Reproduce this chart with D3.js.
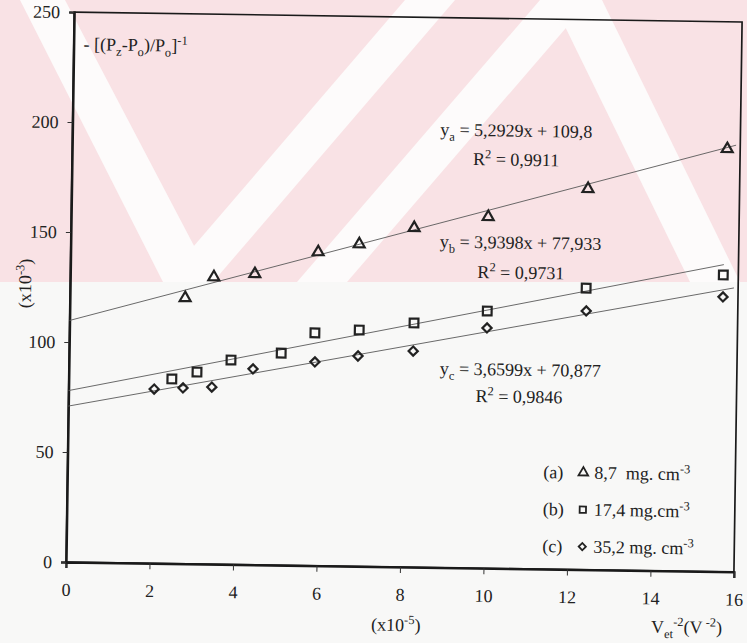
<!DOCTYPE html>
<html>
<head>
<meta charset="utf-8">
<script src="https://cdn.jsdelivr.net/npm/d3@7"></script>
<style>
  body { margin: 0; background: #f8f8f7; }
  text { font-family: "Liberation Serif", "Times New Roman", serif; fill: #222; }
</style>
</head>
<body>
<svg id="chart" width="747" height="643"></svg>
<script>
// tick labels
var xTicks = [0, 2, 4, 6, 8, 10, 12, 14, 16];
var yTicks = [0, 50, 100, 150, 200, 250];

// (a) 8,7 mg.cm-3
var xA = [2.76, 3.44, 4.42, 5.93, 6.91, 8.22, 9.99, 12.37, 15.69];
var yA = [120.8, 130.5, 132.2, 142.6, 146.5, 154.2, 159.7, 173.1, 192.2];
// (b) 17,4 mg.cm-3
var xB = [2.47, 3.07, 3.88, 5.08, 5.88, 6.94, 8.25, 10.0, 12.36, 15.64];
var yB = [83.9, 87.2, 92.9, 96.4, 105.8, 107.4, 111.0, 116.9, 128.0, 134.9];
// (c) 35,2 mg.cm-3
var xC = [2.05, 2.74, 3.43, 4.41, 5.89, 6.92, 8.24, 10.0, 12.37, 15.64];
var yC = [79.2, 79.9, 80.5, 89.0, 92.6, 95.6, 98.2, 109.2, 117.6, 124.9];

// linear fits
var seriesKeys = ["a", "b", "c"];
var slopes = [5.2929, 3.9398, 3.6599];
var intercepts = [109.8, 77.933, 70.877];
var rSquared = [0.9911, 0.9731, 0.9846];
var fitEnds = [15.9, 15.65, 15.9];
var legendLabels = ["8,7\u00a0\u00a0mg. cm", "17,4 mg.cm", "35,2 mg. cm"];

var dimensions = {
    width: 747,
    height: 643,
    margin: { top: 12, left: 66, right: 13, bottom: 81 }
};

var svg = d3.select("#chart");

// scanned watermark band
var wm = svg.append("g");
wm.append("rect").attr("x", 0).attr("y", 0).attr("width", 747).attr("height", 282).attr("fill", "#f9e2e5");
var stripes = [
    [[20, 0], [65, 0], [213, 282], [163, 282]],
    [[405, 0], [455, 0], [213, 282], [163, 282]],
    [[540, 0], [590, 0], [347, 282], [297, 282]],
    [[552, 0], [602, 0], [740, 282], [690, 282]]
];
wm.selectAll("polygon").data(stripes).enter().append("polygon")
    .attr("points", d => d.map(p => p.join(",")).join(" "))
    .attr("fill", "#fdfbfb");

// the scan is slightly rotated
var g = svg.append("g").attr("transform", "rotate(0.85," + dimensions.margin.left + "," + (dimensions.height - dimensions.margin.bottom) + ")");

var xScale = d3.scaleLinear()
    .domain([0, 16])
    .range([dimensions.margin.left, dimensions.width - dimensions.margin.right]);

var yScale = d3.scaleLinear()
    .domain([0, 250])
    .range([dimensions.height - dimensions.margin.bottom, dimensions.margin.top]);

// frame
g.append("rect")
    .attr("x", xScale(0)).attr("y", yScale(250))
    .attr("width", xScale(16) - xScale(0)).attr("height", yScale(0) - yScale(250))
    .attr("fill", "none").attr("stroke", "#1a1a1a").attr("stroke-width", 1.7);

var xAxis = g.append("g")
    .attr("transform", "translate(0," + yScale(0) + ")")
    .call(d3.axisBottom(xScale).tickValues(xTicks).tickSize(6).tickPadding(15));
var yAxis = g.append("g")
    .attr("transform", "translate(" + xScale(0) + ",0)")
    .call(d3.axisLeft(yScale).tickValues(yTicks).tickSize(5).tickPadding(9));

[xAxis, yAxis].forEach(a => {
    a.select(".domain").attr("stroke", "#1a1a1a").attr("stroke-width", 2.4);
    a.selectAll(".tick line").attr("stroke", "#333").attr("stroke-width", 1);
    a.selectAll(".tick text").attr("font-size", "18px").attr("font-family", "Liberation Serif").attr("fill", "#222");
});

// helper for sub/superscripts
function richText(sel, parts) {
    var off = 0;
    parts.forEach(p => {
        var target = p[1] == "sub" ? 5 : (p[1] == "sup" ? -7 : 0);
        var t = sel.append("tspan").text(p[0]).attr("dy", target - off);
        if (p[1]) t.attr("font-size", "12.5px");
        off = target;
    });
}

// fit lines
var fits = seriesKeys.map((k, i) => [[0, intercepts[i]], [fitEnds[i], intercepts[i] + slopes[i] * fitEnds[i]]]);
var line = d3.line().x(d => xScale(d[0])).y(d => yScale(d[1]));
g.selectAll(".fit").data(fits).enter().append("path")
    .attr("class", "fit")
    .attr("d", line)
    .attr("fill", "none").attr("stroke", "#5a5a5a").attr("stroke-width", 0.9);

// markers
var symbols = [
    d3.symbol().type(d3.symbolTriangle).size(52),
    d3.symbol().type(d3.symbolSquare).size(76),
    d3.symbol().type(d3.symbolSquare).size(42)
];
var rotations = [0, 0, 45];
var seriesX = [xA, xB, xC];
var seriesY = [yA, yB, yC];

seriesKeys.forEach((k, i) => {
    var pts = seriesX[i].map((x, j) => [x, seriesY[i][j]]);
    g.selectAll(".pt-" + k).data(pts).enter().append("path")
        .attr("class", "pt-" + k)
        .attr("d", symbols[i])
        .attr("transform", d => "translate(" + xScale(d[0]) + "," + yScale(d[1]) + ") rotate(" + rotations[i] + ")")
        .attr("fill", "none").attr("stroke", "#222").attr("stroke-width", 2.2);
});

// equations
var comma = v => String(v).replace(".", ",");
var eqPos = [[434, 130], [435, 242], [437, 369]];
var r2Pos = [[467, 159], [473, 272], [473, 396]];
seriesKeys.forEach((k, i) => {
    var t = g.append("text").attr("x", eqPos[i][0]).attr("y", eqPos[i][1]).attr("font-size", "18px");
    richText(t, [["y"], [k, "sub"], ["\u00a0= " + comma(slopes[i]) + "x + " + comma(intercepts[i])]]);
    var r = g.append("text").attr("x", r2Pos[i][0]).attr("y", r2Pos[i][1]).attr("font-size", "18px");
    richText(r, [["R"], ["2", "sup"], ["\u00a0= " + comma(rSquared[i])]]);
});

// legend
var legendY = [471, 508, 545];
seriesKeys.forEach((k, i) => {
    g.append("text").attr("x", 542).attr("y", legendY[i]).attr("font-size", "18px").text("(" + k + ")");
    g.append("path")
        .attr("d", d3.symbol().type(i == 0 ? d3.symbolTriangle : d3.symbolSquare).size(i == 2 ? 26 : 40))
        .attr("transform", "translate(582," + (legendY[i] - 6) + ") rotate(" + rotations[i] + ")")
        .attr("fill", "none").attr("stroke", "#222").attr("stroke-width", 1.8);
    var t = g.append("text").attr("x", 593).attr("y", legendY[i]).attr("font-size", "18px");
    richText(t, [[legendLabels[i]], ["-3", "sup"]]);
});

// axis titles
var yt = g.append("text").attr("x", 76).attr("y", 50).attr("font-size", "18px");
richText(yt, [["- [(P"], ["z", "sub"], ["-P"], ["o", "sub"], [")/P"], ["o", "sub"], ["]"], ["-1", "sup"]]);

var yu = g.append("text").attr("transform", "translate(27,284) rotate(-90)")
    .attr("text-anchor", "middle").attr("font-size", "18px");
richText(yu, [["(x10"], ["-3", "sup"], [")"]]);

var xu = g.append("text").attr("x", 372).attr("y", 626).attr("font-size", "18px");
richText(xu, [["(x10"], ["-5", "sup"], [")"]]);

var xt = g.append("text").attr("x", 652).attr("y", 624).attr("font-size", "18px");
richText(xt, [["V"], ["et", "sub"], ["-2", "sup"], ["(V"], ["\u00a0-2", "sup"], [")"]]);
</script>
</body>
</html>
